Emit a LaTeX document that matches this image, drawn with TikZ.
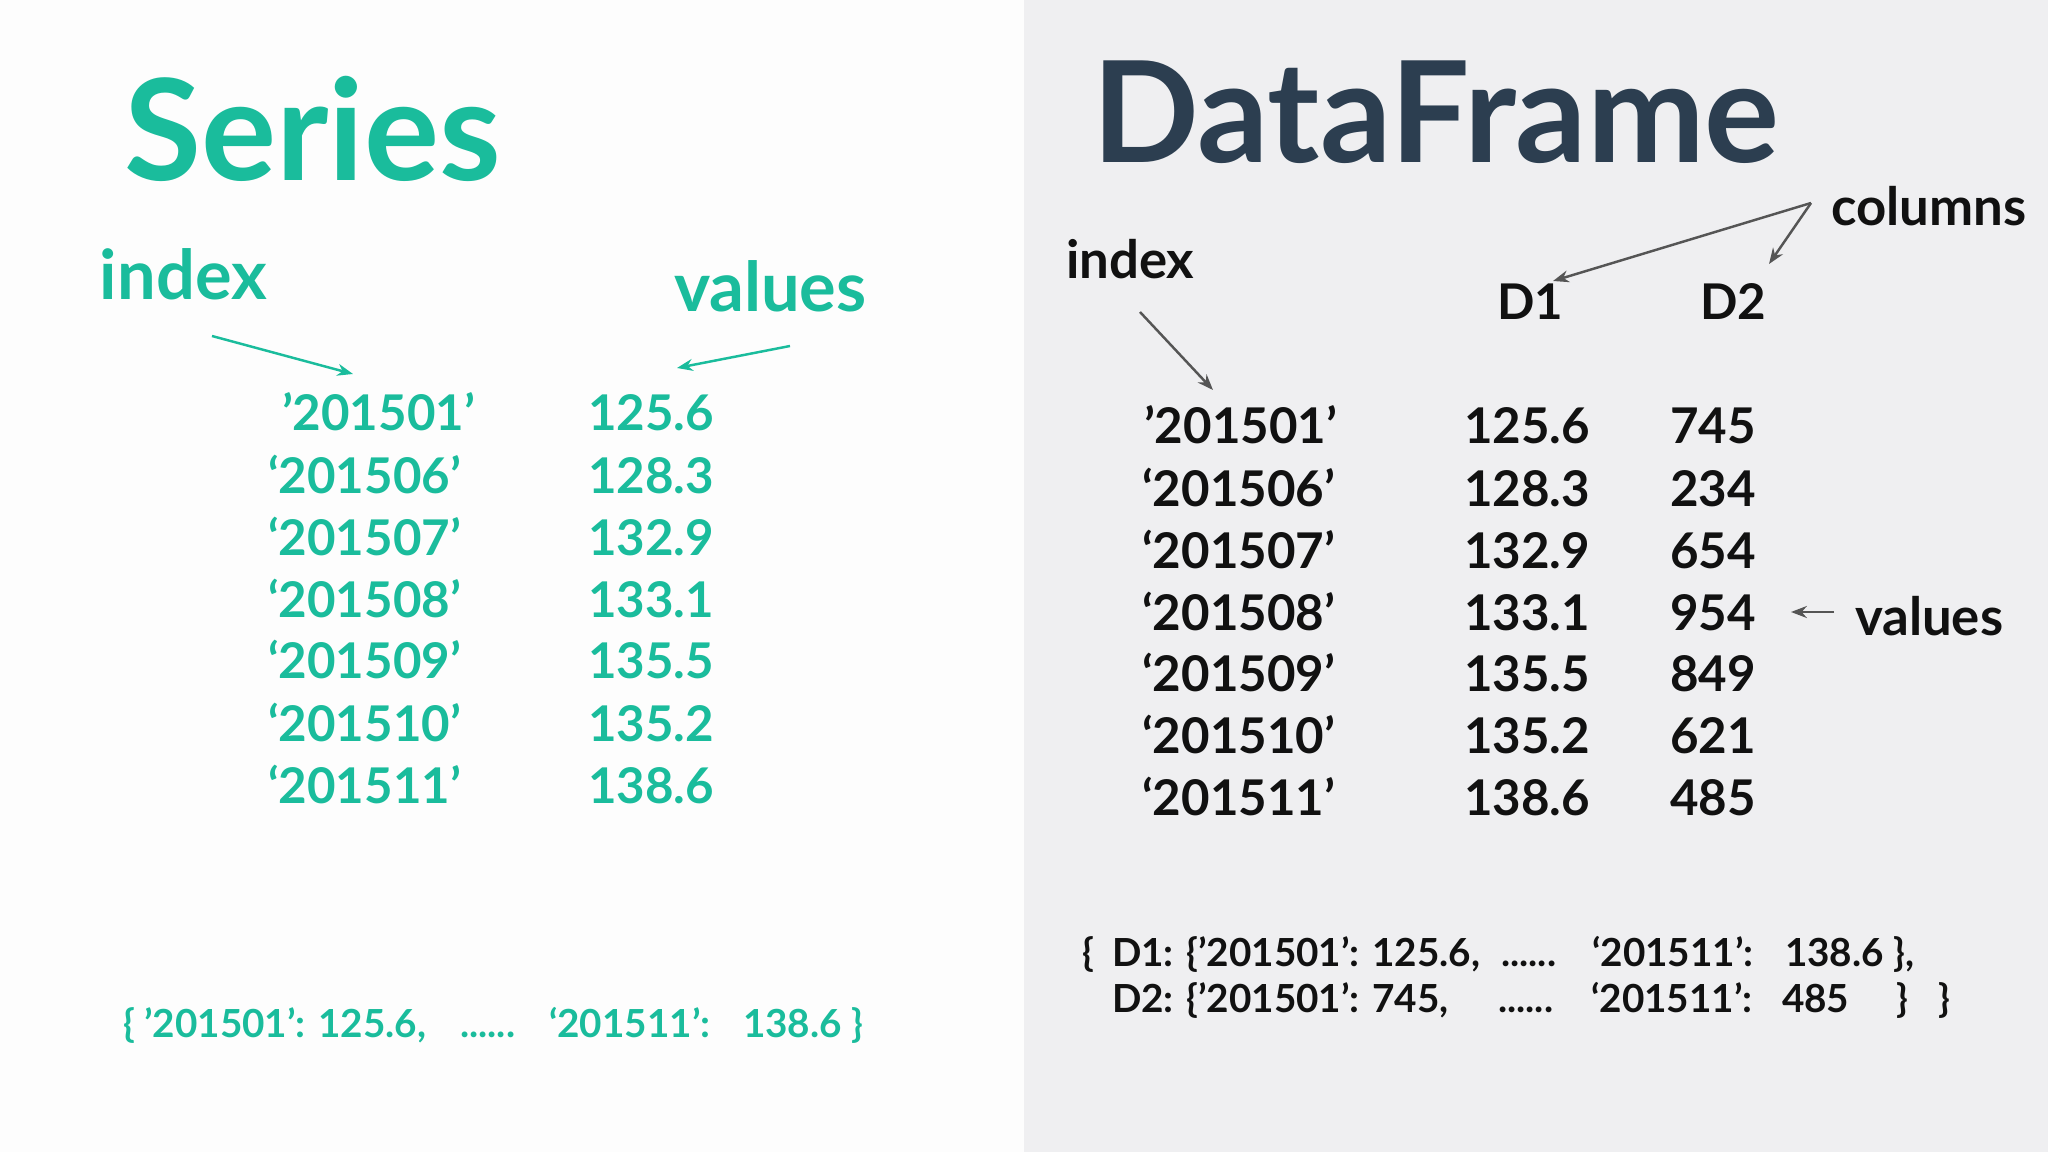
\documentclass[tikz,border=0pt]{standalone}
\usepackage{fontspec}
\setmainfont{Lato}
\usetikzlibrary{arrows.meta}

\definecolor{seriesgreen}{HTML}{1ABC9C}
\definecolor{framenavy}{HTML}{2C3E50}
\definecolor{panelgray}{HTML}{EFEFF1}
\definecolor{panelwhite}{HTML}{FDFDFD}
\definecolor{arrowgray}{HTML}{555555}
\definecolor{inkblack}{HTML}{111111}

\tikzset{
  txt/.style={anchor=base west, inner sep=0pt, outer sep=0pt},
  title/.style={txt, font=\fontsize{40}{44}\selectfont\bfseries},
  tag/.style={txt, font=\fontsize{19.5}{22}\selectfont\bfseries},
  smalltag/.style={txt, font=\fontsize{15}{18}\selectfont\bfseries},
  cell/.style={txt, font=\fontsize{14}{16}\selectfont\bfseries},
  dict/.style={txt, font=\fontsize{11}{13}\selectfont\bfseries},
  pointer/.style={line width=0.7pt, -{Stealth[length=4.5pt,width=3.4pt]}},
}

\begin{document}
\begin{tikzpicture}[x=0.01cm, y=-0.01cm]
  \useasboundingbox (0,0) rectangle (2048,1152);
  \fill[panelwhite] (0,0) rectangle (1024,1152);% Series side
  \fill[panelgray] (1024,0) rectangle (2048,1152);% DataFrame side

  % Series panel
  \begin{scope}[every node/.append style={text=seriesgreen}]
    \node[title] (stitle) at (124,181) {Series};
    \node[tag] (sindex) at (100,300) {index};
    \node[tag] (svalues) at (674,312) {values};
    \foreach \x/\y/\k/\v [count=\n] in {282/431/{’201501’}/125.6,
        268/494/{‘201506’}/128.3, 268/555/{‘201507’}/132.9,
        268/617/{‘201508’}/133.1, 268/679/{‘201509’}/135.5,
        268/741/{‘201510’}/135.2, 268/803/{‘201511’}/138.6}{
      \node[cell] (sk\n) at (\x,\y) {\k};
      \node[cell] (sv\n) at (588,\y) {\v};}
    % dictionary form
    \node[dict] (sdict) at (123,1037) {\{ ’201501’: 125.6,};
    \node[dict] (sdots) at (460,1037) {......};
    \node[dict] (slast) at (549,1037) {‘201511’:};
    \node[dict] (slastv) at (743,1037) {138.6 \}};
  \end{scope}
  \coordinate (sindexfrom) at (212,336);
  \coordinate (sindexto) at (353,374);
  \coordinate (svaluesfrom) at (790,346);
  \coordinate (svaluesto) at (677,368);
  \draw[pointer, seriesgreen] (sindexfrom) -- (sindexto);
  \draw[pointer, seriesgreen] (svaluesfrom) -- (svaluesto);

  % DataFrame panel
  \node[title, text=framenavy] (dtitle) at (1092,163) {DataFrame};
  \begin{scope}[every node/.append style={text=inkblack}]
    \node[smalltag] (dindex) at (1066,279) {index};
    \node[smalltag] (dcolumns) at (1831,226) {columns};
    \node[smalltag] (dvalues) at (1855,635) {values};
    \node[cell] (dh1) at (1497,320) {D1};
    \node[cell] (dh2) at (1700,320) {D2};
    \foreach \x/\y/\k/\a/\b [count=\n] in {1144/444/{’201501’}/125.6/745,
        1142/507/{‘201506’}/128.3/234, 1142/568/{‘201507’}/132.9/654,
        1142/630/{‘201508’}/133.1/954, 1142/692/{‘201509’}/135.5/849,
        1142/753/{‘201510’}/135.2/621, 1142/815/{‘201511’}/138.6/485}{
      \node[cell] (dk\n) at (\x,\y) {\k};
      \node[cell] (da\n) at (1464,\y) {\a};
      \node[cell] (db\n) at (1670,\y) {\b};}
    % dictionary form
    \node[dict] (dopen) at (1082,966) {\{};
    \node[dict] (dd1) at (1112,966) {D1: \{’201501’: 125.6,};
    \node[dict] (dd1dots) at (1501,966) {......};
    \node[dict] (dd1last) at (1592,966) {‘201511’:};
    \node[dict] (dd1lastv) at (1785,966) {138.6 \},};
    \node[dict] (dd2) at (1112,1012) {D2: \{’201501’: 745,};
    \node[dict] (dd2dots) at (1498,1012) {......};
    \node[dict] (dd2last) at (1591,1012) {‘201511’:};
    \node[dict] (dd2lastv) at (1782,1012) {485};
    \node[dict] (dd2close) at (1896,1012) {\}};
    \node[dict] (dclose) at (1938,1012) {\}};
  \end{scope}
  \coordinate (dcolfrom) at (1811,203);
  \coordinate (dcolto1) at (1553,281);
  \coordinate (dcolto2) at (1769,264);
  \coordinate (dindexfrom) at (1140,312);
  \coordinate (dindexto) at (1213,390);
  \coordinate (dvaluesfrom) at (1834,612);
  \coordinate (dvaluesto) at (1791,612);
  \draw[pointer, arrowgray] (dcolfrom) -- (dcolto1);
  \draw[pointer, arrowgray] (dcolfrom) -- (dcolto2);
  \draw[pointer, arrowgray] (dindexfrom) -- (dindexto);
  \draw[pointer, arrowgray] (dvaluesfrom) -- (dvaluesto);
\end{tikzpicture}
\end{document}
